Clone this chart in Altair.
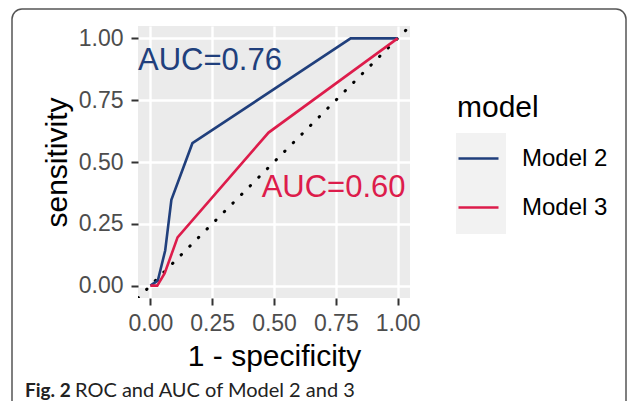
import altair as alt
import pandas as pd

# ---- data ----
models = ["Model 2", "Model 3"]
colors = ["#203F7C", "#DD1C4B"]

m2_fpr = [0.00, 0.03, 0.06, 0.085, 0.17, 0.81, 1.00]
m2_tpr = [0.00, 0.02, 0.142, 0.347, 0.576, 1.00, 1.00]

m3_fpr = [0.00, 0.028, 0.058, 0.11, 0.478, 1.00]
m3_tpr = [0.00, 0.00, 0.05, 0.195, 0.619, 1.00]

ref_x = [-0.05, 1.05]
ref_y = [-0.05, 1.05]

ann_text = ["AUC=0.76", "AUC=0.60"]
ann_model = ["Model 2", "Model 3"]
ann_x = [-0.05, 0.45]
ann_y = [0.909, 0.396]

tick_vals = [0, 0.125, 0.25, 0.375, 0.5, 0.625, 0.75, 0.875, 1.0]

caption_bold = "Fig. 2"
caption_rest = "ROC and AUC of Model 2 and 3"

# ---- tables ----
rows = []
for i, (x, y) in enumerate(zip(m2_fpr, m2_tpr)):
    rows.append({"model": "Model 2", "fpr": x, "tpr": y, "idx": i})
for i, (x, y) in enumerate(zip(m3_fpr, m3_tpr)):
    rows.append({"model": "Model 3", "fpr": x, "tpr": y, "idx": i})
roc = pd.DataFrame(rows)
ref = pd.DataFrame({"fpr": ref_x, "tpr": ref_y})
ann = pd.DataFrame({"text": ann_text, "model": ann_model, "fpr": ann_x, "tpr": ann_y})

W, H = 272, 272
FONT = "Liberation Sans"
minor_test = "(datum.value * 4) % 1 != 0"


def make_axis(title, pad_title, is_x):
    return alt.Axis(
        title=title,
        values=tick_vals,
        domain=False,
        grid=True,
        gridColor="white",
        gridWidth={"condition": {"test": minor_test, "value": 1.2}, "value": 2.4},
        tickColor="#333333",
        tickWidth=2,
        tickSize=7,
        tickOpacity={"condition": {"test": minor_test, "value": 0}, "value": 1},
        labelExpr=f"{minor_test} ? '' : format(datum.value, '.2f')",
        labelFont=FONT,
        labelFontSize=23,
        labelColor="#4D4D4D",
        labelPadding=7 if is_x else 8,
        labelFlush=False,
        labelOverlap=False,
        titleFont=FONT,
        titleFontSize=30,
        titleFontWeight="normal",
        titleColor="black",
        titlePadding=pad_title,
    )


xscale = alt.Scale(domain=[-0.05, 1.05], nice=False, zero=False)
yscale = alt.Scale(domain=[-0.05, 1.05], nice=False, zero=False)
cscale = alt.Scale(domain=models, range=colors)

x_enc = alt.X("fpr:Q", scale=xscale, axis=make_axis("1 - specificity", 6, True))
y_enc = alt.Y("tpr:Q", scale=yscale, axis=make_axis("sensitivity", 6, False))

# frame around figure (decoration)
frame = alt.Chart(alt.Data(values=[{}])).mark_rect(
    fill="transparent", stroke="#555555", strokeWidth=1.5, cornerRadius=10
).encode(
    x=alt.value(-126), x2=alt.value(488), y=alt.value(-17), y2=alt.value(420)
)

# legend key background (decoration)
keybg = alt.Chart(alt.Data(values=[{}])).mark_rect(fill="#F2F2F2").encode(
    x=alt.value(318), x2=alt.value(368), y=alt.value(107), y2=alt.value(208)
)

diag = alt.Chart(ref).mark_line(
    color="black", strokeWidth=3, strokeDash=[0.5, 11.7], strokeCap="round", clip=True
).encode(x=x_enc, y=y_enc)

lines = alt.Chart(roc).mark_line(strokeWidth=2.6).encode(
    x=alt.X("fpr:Q", scale=xscale),
    y=alt.Y("tpr:Q", scale=yscale),
    color=alt.Color(
        "model:N",
        scale=cscale,
        legend=alt.Legend(
            title="model",
            orient="none",
            legendX=319,
            legendY=67,
            symbolType="stroke",
            symbolSize=1600,
            symbolStrokeWidth=2.6,
            labelFont=FONT,
            labelFontSize=24,
            labelColor="black",
            labelOffset=22,
            titleFont=FONT,
            titleFontSize=30,
            titleFontWeight="normal",
            titleColor="black",
            titlePadding=14,
            rowPadding=15,
            padding=0,
        ),
    ),
    order="idx:Q",
)

texts = alt.Chart(ann).mark_text(
    align="left", baseline="middle", font=FONT, fontSize=31
).encode(
    x=alt.X("fpr:Q", scale=xscale),
    y=alt.Y("tpr:Q", scale=yscale),
    text="text:N",
    color=alt.Color("model:N", scale=cscale, legend=None),
)

cap1 = alt.Chart(alt.Data(values=[{}])).mark_text(
    align="left", baseline="alphabetic", font="Lato", fontWeight="bold", fontSize=19, color="#222222"
).encode(x=alt.value(-113), y=alt.value(371), text=alt.value(caption_bold))

cap2 = alt.Chart(alt.Data(values=[{}])).mark_text(
    align="left", baseline="alphabetic", font="Lato", fontSize=20, color="#222222"
).encode(x=alt.value(-63), y=alt.value(371), text=alt.value(caption_rest))

chart = alt.layer(frame, keybg, diag, lines, texts, cap1, cap2).properties(
    width=W,
    height=H,
    autosize=alt.AutoSizeParams(type="none"),
    padding={"left": 130, "top": 18, "right": 217, "bottom": 103},
    background="white",
).configure_view(fill="#EBEBEB", stroke=None)

chart.save("out.html", embed_options={"renderer": "svg", "actions": False})
